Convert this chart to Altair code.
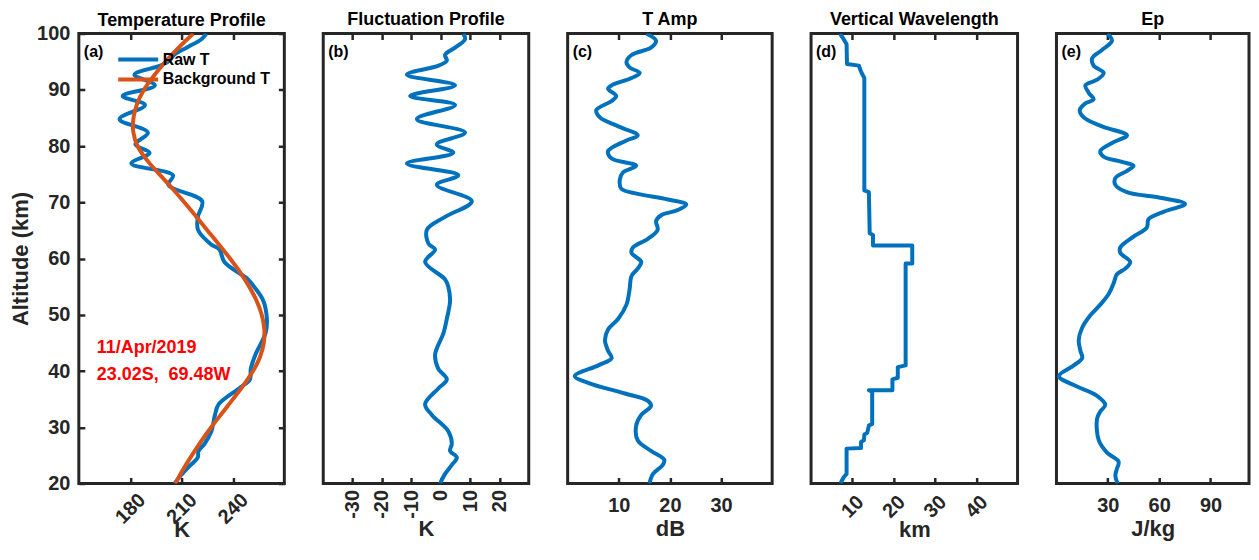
import altair as alt
import pandas as pd

FONT = "Liberation Sans"
BLUE = "#0072BD"
ORANGE = "#D95319"
AXC = "#262626"
H = 451

# ---------------- data ----------------
# (a) temperature profile (K) and (b) fluctuation (K), altitude in km
raw_alt = [100, 99, 97.5, 96.2, 95.2, 94.3, 92.7, 90.8, 88.9, 87.3, 84.8, 82.4, 80.3, 78.8, 76.9,
           74.8, 73.1, 70.2, 67.4, 65.1, 62.6, 61.6, 59.4, 56.3, 55.0, 52.5, 49.3, 46.8, 42.9, 40.4,
           38.5, 36.9, 34.1, 32.2, 29.3, 27.1, 25.8, 24.6, 23.3, 21.7, 20]
raw_T = [224.5, 221.6, 212.9, 205.5, 203.0, 197.6, 182.5, 194.4, 175.6, 188.6, 173.8, 190.3, 183.0,
         191.3, 180.7, 205.0, 202.3, 222.0, 219.5, 219.6, 226.9, 232.1, 235.0, 248.8, 252.3, 257.7,
         259.8, 259.1, 253.1, 250.4, 249.9, 243.5, 231.7, 229.5, 227.4, 223.5, 219.9, 219.4, 215.3,
         210.3, 205.9]
bg_alt = [100, 97.5, 95, 92.5, 90, 87.5, 85, 82.5, 80, 77.5, 75, 72.5, 70, 67.5, 65, 62.5, 60,
          57.5, 55, 52.5, 50, 47.5, 45, 42.5, 40, 37.5, 35, 32.5, 30, 27.5, 25, 22.5, 20]
bg_T = [216.8, 208.3, 200.6, 193.8, 188.0, 184.0, 181.9, 181.8, 184.3, 189.8, 197.0, 204.5, 211.6,
        218.4, 225.1, 231.8, 238.3, 244.3, 249.5, 253.8, 256.8, 258.3, 258.0, 255.8, 251.7, 246.2,
        240.0, 233.6, 227.3, 221.4, 216.0, 210.9, 206.3]
fl_alt = raw_alt
fl_K = [7.7, 8.3, 4.9, 1.5, 2.1, -0.7, -11.5, 4.9, -10.4, 4.9, -8.1, 8.3, -1.3, 4.3, -11.5, 6.0,
        -1.3, 10.6, 1.5, -4.7, -4.1, -1.9, -5.3, 1.5, 2.6, 3.2, 2.1, 1.0, -1.9, -0.8, 2.1, -0.8,
        -5.3, -3.0, 2.6, 3.8, 3.2, 5.5, 3.8, 1.5, -0.2]

# (c) T amplitude (dB)
amp_alt = [100, 98.7, 97.5, 96.2, 94.9, 94.0, 93.0, 92.1, 90.8, 90.2, 88.9, 88.0, 86.4, 85.1, 83.5,
           81.9, 81.0, 79.1, 77.8, 76.5, 75.3, 74.0, 72.4, 71.5, 70.5, 69.6, 68.6, 67.7, 66.7, 65.1,
           63.5, 62.0, 61.0, 59.4, 58.2, 56.9, 54.4, 51.8, 49.3, 47.4, 45.5, 43.6, 42.3, 41.0, 39.1,
           37.9, 36.0, 34.7, 33.8, 32.2, 30.3, 27.7, 25.8, 24.2, 23.3, 21.7, 20]
amp_dB = [15.4, 17.3, 16.3, 12.5, 11.5, 12.1, 14.1, 12.5, 8.6, 7.9, 9.5, 8.6, 5.6, 6.3, 9.9, 13.7,
          11.5, 7.9, 8.6, 13.4, 10.8, 10.2, 10.5, 13.7, 19.6, 23.2, 21.5, 18.3, 17.3, 17.6, 15.7,
          12.8, 12.5, 14.4, 13.7, 12.5, 12.1, 11.5, 9.9, 7.9, 7.3, 7.9, 8.6, 6.0, 1.4, 4.0, 11.2,
          15.7, 16.3, 14.4, 13.4, 13.7, 16.3, 18.9, 18.6, 16.7, 16.0]

# (d) vertical wavelength (km), step profile listed from top to bottom
vw_alt = [100, 99, 98.1, 94.6, 94.3, 93.4, 92.8, 92.1, 72.1, 71.8, 64.5, 64.2, 62.3, 62.3, 59.1,
          59.1, 41.0, 40.7, 38.8, 38.5, 36.6, 36.6, 36.3, 30.6, 30.3, 29.0, 28.7, 27.7, 27.4, 26.3,
          26.2, 21.7, 21.1, 20]
vw_km = [7.0, 7.9, 8.6, 8.7, 11.6, 12.0, 12.4, 12.9, 12.9, 14.0, 14.2, 15.0, 15.0, 24.5, 24.5, 22.9,
         22.9, 21.0, 21.0, 19.7, 19.7, 14.0, 14.8, 14.8, 14.0, 13.6, 12.9, 12.8, 12.1, 12.1, 8.6,
         8.6, 7.9, 7.1]

# (e) potential energy (J/kg)
ep_alt = [100, 98.7, 97.1, 95.6, 94.3, 93.0, 91.8, 90.8, 89.5, 88.3, 87.6, 86.4, 85.1, 83.5, 81.9,
          80.7, 79.1, 78.1, 77.2, 76.5, 75.6, 74.3, 73.1, 71.8, 70.8, 69.7, 68.3, 67.0, 65.5, 63.9,
          62.0, 61.0, 59.4, 58.2, 57.2, 55.6, 53.7, 51.8, 49.9, 47.7, 45.5, 43.6, 42.3, 41.0, 39.1,
          37.5, 35.6, 34.0, 32.8, 31.5, 27.7, 25.5, 23.9, 22.6, 21.4, 20]
ep_J = [29.9, 32.4, 26.6, 20.8, 21.7, 27.6, 23.7, 16.9, 18.8, 21.7, 16.9, 13.6, 15.9, 26.6, 41.2,
        33.4, 25.6, 27.6, 38.3, 45.0, 41.2, 34.4, 34.4, 41.2, 60.6, 75.1, 62.5, 53.8, 52.8, 45.0,
        37.3, 37.3, 43.1, 40.2, 35.3, 33.4, 30.5, 25.6, 19.8, 15.0, 13.0, 14.0, 15.0, 10.1, 1.4,
        10.1, 23.7, 28.5, 25.6, 23.7, 24.7, 29.5, 36.3, 35.3, 34.4, 35.7]

series_names = ["Raw T", "Background T"]
date_text = "11/Apr/2019"
loc_text = "23.02S,\u00a0 69.48W"


def frame(alts, vals, series=None):
    d = pd.DataFrame({"alt": alts, "v": vals, "i": list(range(len(alts)))})
    if series is not None:
        d["series"] = series
    return d


Y_SCALE = alt.Scale(domain=[20, 100], nice=False, zero=False)
HYPHEN = "datum.value < 0 ? '-' + abs(datum.value) : '' + datum.value"


def x_axis(title, ticks, angle, align, baseline, pad, title_y):
    return alt.Axis(values=ticks, title=title, grid=True, gridDash=[6, H - 12], gridColor=AXC,
                    gridWidth=2.5, gridOpacity=1, ticks=False, domain=False, labelAngle=angle,
                    labelAlign=align, labelBaseline=baseline, labelPadding=pad, labelFont=FONT,
                    labelFontSize=20, labelFontWeight="bold", labelColor=AXC, labelFlush=False,
                    labelOverlap=False, labelExpr=HYPHEN, titleFont=FONT, titleFontSize=22,
                    titleFontWeight="bold", titleColor=AXC, titleY=title_y,
                    titleBaseline="alphabetic")


def ptitle(t, off=5):
    return alt.TitleParams(t, font=FONT, fontSize=18, fontWeight="bold", color="#000000",
                           offset=off)


def tag(s):
    return alt.Chart(pd.DataFrame({"t": [s]})).mark_text(
        font=FONT, fontSize=16, fontWeight="bold", color="#000000", align="left",
        baseline="alphabetic").encode(text="t:N", x=alt.value(5), y=alt.value(23))


def profile(df, xdom, axis, interp="catmull-rom"):
    return alt.Chart(df).mark_line(color=BLUE, strokeWidth=4, interpolate=interp, clip=True,
                                   strokeJoin="round").encode(
        x=alt.X("v:Q", scale=alt.Scale(domain=xdom, nice=False, zero=False), axis=axis),
        y=alt.Y("alt:Q", scale=Y_SCALE, axis=None),
        order=alt.Order("i:Q"))


# ---------------- panel (a) ----------------
W_A = 206
color = alt.Color("series:N", scale=alt.Scale(domain=series_names, range=[BLUE, ORANGE]),
                  legend=alt.Legend(title=None, orient="none", legendX=47.5, legendY=14,
                                    symbolType="M-2,0H2", symbolSize=400, symbolStrokeWidth=4,
                                    labelFont=FONT, labelFontSize=16, labelFontWeight="bold",
                                    labelColor="#000000", labelOffset=12.5, rowPadding=0,
                                    padding=0, labelLimit=300))
xa = alt.X("v:Q", scale=alt.Scale(domain=[150, 270], nice=False, zero=False),
           axis=x_axis("K", [180, 210, 240], 315, "center", "middle", 25, 53))
ya = alt.Y("alt:Q", scale=Y_SCALE,
           axis=alt.Axis(values=list(range(20, 101, 10)), title="Altitude (km)", grid=True,
                         gridDash=[6, W_A - 12], gridColor=AXC, gridWidth=2.5, gridOpacity=1,
                         ticks=False, domain=False, labelPadding=9, labelFont=FONT,
                         labelFontSize=20, labelFontWeight="bold", labelColor=AXC,
                         titleFont=FONT, titleFontSize=22, titleFontWeight="bold",
                         titleColor=AXC, titlePadding=4))

raw_line = alt.Chart(frame(raw_alt, raw_T, "Raw T")).mark_line(
    strokeWidth=4, interpolate="catmull-rom", clip=True, strokeJoin="round").encode(
    x=xa, y=ya, color=color, order=alt.Order("i:Q"))
bg_line = alt.Chart(frame(bg_alt, bg_T, "Background T")).mark_line(
    strokeWidth=4, interpolate="catmull-rom", clip=True, strokeJoin="round").encode(
    x=xa, y=ya, color=color, order=alt.Order("i:Q"))
red_style = dict(font=FONT, fontSize=18, fontWeight="bold", color="#FF0000", align="left",
                 baseline="alphabetic")
date_mark = alt.Chart(pd.DataFrame({"t": [date_text]})).mark_text(**red_style).encode(
    text="t:N", x=alt.value(18), y=alt.value(320))
loc_mark = alt.Chart(pd.DataFrame({"t": [loc_text]})).mark_text(**red_style).encode(
    text="t:N", x=alt.value(18), y=alt.value(347))

panel_a = alt.layer(raw_line, bg_line, tag("(a)"), date_mark, loc_mark).properties(
    width=W_A, height=H, title=ptitle("Temperature Profile", -6))

# ---------------- panels (b)-(e) ----------------
panel_b = alt.layer(
    profile(frame(fl_alt, fl_K), [-40, 30],
            x_axis("K", [-30, -20, -10, 0, 10, 20], 270, "right", "middle", 6, 52)),
    tag("(b)")).properties(width=206, height=H, title=ptitle("Fluctuation Profile"))

panel_c = alt.layer(
    profile(frame(amp_alt, amp_dB), [0, 40],
            x_axis("dB", [10, 20, 30], 0, "center", "top", 12, 52)),
    tag("(c)")).properties(width=205, height=H, title=ptitle("T Amp"))

panel_d = alt.layer(
    profile(frame(vw_alt, vw_km), [0, 50],
            x_axis("km", [10, 20, 30, 40], 315, "center", "middle", 23, 53), interp="linear"),
    tag("(d)")).properties(width=207, height=H, title=ptitle("Vertical Wavelength"))

panel_e = alt.layer(
    profile(frame(ep_alt, ep_J), [0, 112.5],
            x_axis("J/kg", [30, 60, 90], 0, "center", "top", 12, 52)),
    tag("(e)")).properties(width=193, height=H, title=ptitle("Ep"))

chart = alt.hconcat(panel_a, panel_b, panel_c, panel_d, panel_e, spacing=35).resolve_scale(
    color="independent").configure_view(stroke=AXC, strokeWidth=3).properties(
    padding={"left": 0, "top": 0, "right": 0, "bottom": 0}, background="white")

chart.save("out.html", embed_options={"renderer": "svg", "actions": False})
